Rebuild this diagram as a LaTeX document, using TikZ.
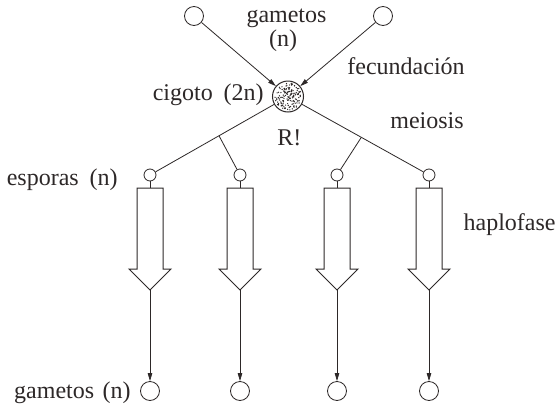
\documentclass[tikz,border=0pt]{standalone}
\usepackage{fontspec}
\setmainfont{Liberation Serif}
\usetikzlibrary{arrows.meta,calc}
\definecolor{ink}{RGB}{45,40,40}
\begin{document}
\begin{tikzpicture}[x=1pt,y=-1pt, ink, line width=0.8pt,
  font=\fontsize{24}{28}\selectfont,
  txt/.style={text=ink, inner sep=0pt, anchor=base west},
  gam/.style={circle, draw=ink, minimum size=19pt, inner sep=0pt},
  spore/.style={circle, draw=ink, minimum size=12pt, inner sep=0pt},
  thinarrow/.style={-{Triangle[length=8pt,width=4.5pt]}},
  bigarrow/.style={line width=1pt, fill=white, line join=miter}]
\useasboundingbox[fill=white] (0,0) rectangle (558,413);

% top gametes and zygote
\node[gam] (gL) at (194,16) {};
\node[gam] (gR) at (383,16) {};
\node[circle, draw=ink, line width=1pt, minimum size=31pt, inner sep=0pt] (cig) at (288,96.5) {};
\pgfmathsetseed{7}
\foreach \i in {1,...,150}{
  \pgfmathsetmacro\rr{13.6*sqrt(rnd)}
  \pgfmathsetmacro\aa{360*rnd}
  \fill[ink] ($(cig)+(\aa:\rr)$) circle[radius=0.7pt];
}
\draw[thinarrow] (gL) -- (cig);
\draw[thinarrow] (gR) -- (cig);

% columns
\foreach \n/\x in {1/150, 2/240, 3/337, 4/429}{
  \node[spore] (s\n) at (\x,175) {};
  \coordinate (t\n) at (\x,188);
  \coordinate (p\n) at (\x,290);
  \draw (s\n) -- (t\n);
  \draw[bigarrow] (t\n) ++(-13,0) -- ++(26,0) -- ++(0,81) -- ++(8,0) -- (p\n)
     -- ++(-21,-21) -- ++(8,0) -- cycle;
  \node[gam] (g\n) at (\x,391) {};
  \draw[thinarrow] (p\n) -- (g\n);
}

% meiosis branches
\coordinate (bL) at ($(cig)!0.5!(s1)$);
\coordinate (bR) at ($(cig)!0.52!(s4)$);
\draw (cig) -- (s1);
\draw (cig) -- (s4);
\draw (bL) -- (s2);
\draw (bR) -- (s3);

% labels
\node[txt, anchor=base] (l1) at (286.5,22.5) {gametos};
\node[txt, anchor=base] (l2) at (283,46.5) {(n)};
\node[txt] (l3) at (347,74) {fecundación};
\node[txt, anchor=base east] (l4) at (264,100) {cigoto\hspace{0.45em}(2n)};
\node[txt] (l5) at (390,128) {meiosis};
\node[txt] (l6) at (277,145) {R!};
\node[txt, anchor=base east] (l7) at (118,185) {esporas\hspace{0.45em}(n)};
\node[txt, anchor=base east] (l8) at (556,230) {haplofase};
\node[txt, anchor=base east] (l9) at (131,398) {gametos\hspace{0.35em}(n)};
\end{tikzpicture}
\end{document}
